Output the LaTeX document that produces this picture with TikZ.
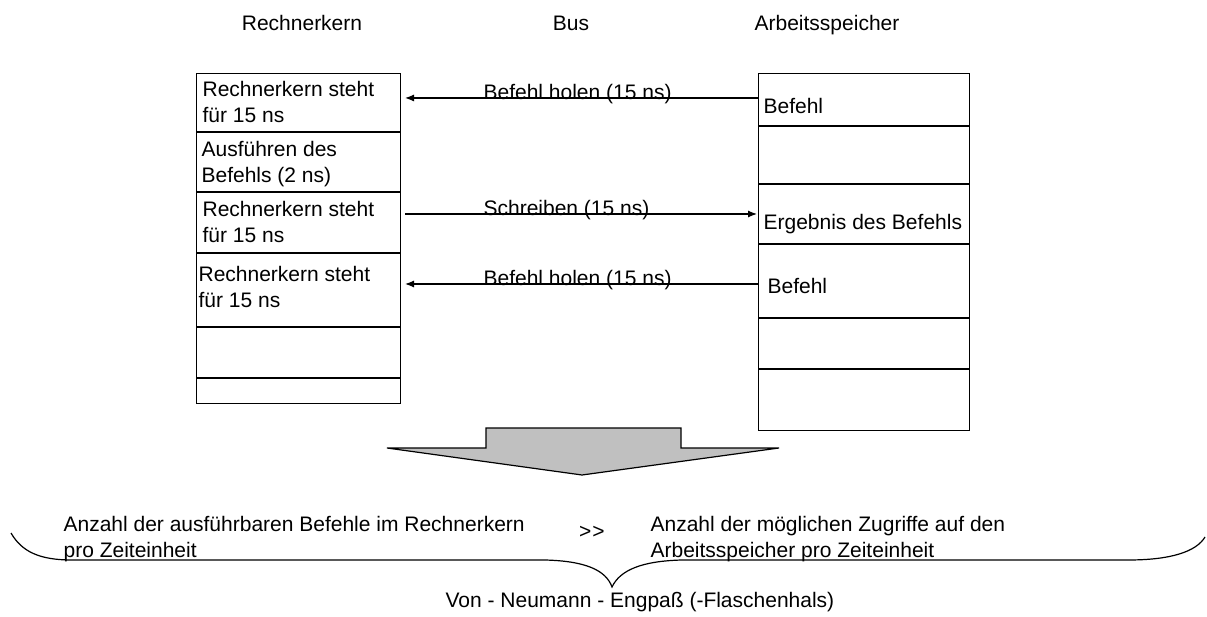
\documentclass[tikz,border=0pt]{standalone}
\usepackage{fontspec}
\setmainfont{Liberation Sans}
\usetikzlibrary{arrows.meta}
\definecolor{arrowgray}{RGB}{192,192,192}
\begin{document}
\begin{tikzpicture}[x=1pt,y=-1pt,line width=1.2pt,
  txt/.style={inner sep=0pt,anchor=base west,font=\fontsize{21}{26}\selectfont,align=left},
  hdr/.style={inner sep=0pt,anchor=base,font=\fontsize{21}{26}\selectfont},
  col/.style={draw,rectangle,inner sep=0pt,anchor=north west,line width=1.2pt},
  msg/.style={-{Latex[length=9pt,width=7pt]},line width=1.2pt}]
\useasboundingbox (0,0) rectangle (1207,617);

% headers
\node[hdr] (hcore) at (302,31) {Rechnerkern};
\node[hdr] (hbus) at (571,31) {Bus};
\node[hdr] (hmem) at (827,31) {Arbeitsspeicher};

% columns
\node[col,minimum width=204pt,minimum height=330pt] (core) at (196,73) {};
\node[col,minimum width=211pt,minimum height=357pt] (mem) at (758,73) {};

% dividers left
\foreach \yy in {132,192,253,327,378} \draw (196,\yy) -- (400,\yy);
% dividers right
\foreach \yy in {126,184,244,318,369} \draw (758,\yy) -- (969,\yy);

% texts left (position = baseline of last line)
\node[txt] (c1) at (202,123) {Rechnerkern steht\\für 15 ns};
\node[txt] (c2) at (201,183) {Ausführen des\\Befehls (2 ns)};
\node[txt] (c3) at (202,243) {Rechnerkern steht\\für 15 ns};
\node[txt] (c4) at (198,308) {Rechnerkern steht\\für 15 ns};

% texts right
\node[txt] (m1) at (763,114) {Befehl};
\node[txt] (m2) at (763,230) {Ergebnis des Befehls};
\node[txt] (m3) at (767,294) {Befehl};

% messages
\coordinate (s1) at (758,98);  \coordinate (e1) at (405,98);
\coordinate (s2) at (405,214); \coordinate (e2) at (757,214);
\coordinate (s3) at (758,284); \coordinate (e3) at (405,284);
\draw[msg] (s1) -- (e1);
\draw[msg] (s2) -- (e2);
\draw[msg] (s3) -- (e3);
\node[txt] (l1) at (483,100) {Befehl holen (15 ns)};
\node[txt] (l2) at (483,216) {Schreiben (15 ns)};
\node[txt] (l3) at (483,286) {Befehl holen (15 ns)};

% big gray arrow
\draw[fill=arrowgray,line width=1.2pt,line join=miter]
  (486,448) -- (486,428) -- (681,428) -- (681,448) -- (779,448) -- (582,475) -- (387,448) -- cycle;

% bottom texts
\node[txt] (left) at (63,557) {Anzahl der ausführbaren Befehle im Rechnerkern\\pro Zeiteinheit};
\node[hdr] (gg) at (592,538) {\textgreater\kern1pt\textgreater};
\node[txt] (right) at (650,557) {Anzahl der möglichen Zugriffe auf den\\Arbeitsspeicher pro Zeiteinheit};

% brace
\draw[line width=1.2pt] (11,533) .. controls (22,552) and (40,560) .. (72,560) -- (545,560)
  .. controls (585,561) and (606,570) .. (612,587)
  .. controls (620,570) and (642,561) .. (682,560) -- (1128,560)
  .. controls (1170,560) and (1196,552) .. (1205,537);

\node[txt] (vn) at (445,607) {Von - Neumann - Engpaß (-Flaschenhals)};
\end{tikzpicture}
\end{document}
